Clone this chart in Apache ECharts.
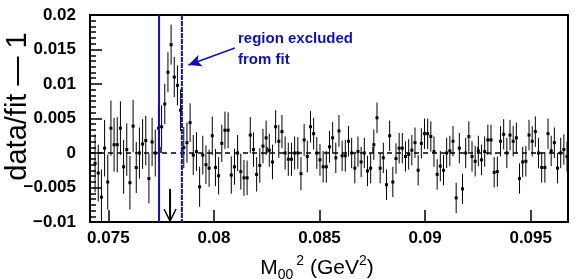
<!DOCTYPE html>
<html><head><meta charset="utf-8">
<script src="https://cdn.jsdelivr.net/npm/echarts@6/dist/echarts.min.js"></script>
<style>html,body{margin:0;padding:0;background:#fff}#c{width:581px;height:279px}</style>
</head><body><div id="c"></div>
<script>
// ---- data ----
const binStart = 0.07437;   // centre of the first bin (GeV^2)
const binWidth = 0.00015;   // bin width (GeV^2)
const ratio = [
 -0.0015,-0.0029,-0.0064, 0.0007,-0.0042, 0.0036, 0.0012, 0.0012, 0.0036,-0.0020,
  0.0005,-0.0043, 0.0039,-0.0021, 0.0000, 0.0013, 0.0018,-0.0037, 0.0016, 0.0000,
  0.0036, 0.0038, 0.0071, 0.0117, 0.0157, 0.0110, 0.0098, 0.0062, 0.0008, 0.0015,
  0.0044,-0.0003, 0.0002,-0.0049,-0.0003,-0.0017,-0.0022, 0.0025,-0.0021,-0.0033,
  0.0014, 0.0033, 0.0033,-0.0032,-0.0020, 0.0000,-0.0027,-0.0036,-0.0036, 0.0026,
  0.0005,-0.0031,-0.0018, 0.0010, 0.0022, 0.0004,-0.0013, 0.0038, 0.0017, 0.0031,
  0.0000,-0.0009,-0.0009, 0.0000, 0.0000,-0.0030, 0.0019,-0.0005, 0.0038, 0.0028,
  0.0000,-0.0010,-0.0020,-0.0020, 0.0009, 0.0022,-0.0007, 0.0032,-0.0004,-0.0004,
  0.0017, 0.0000,-0.0022, 0.0002,-0.0013, 0.0000,-0.0026,-0.0022, 0.0012, 0.0051,
 -0.0022,-0.0007,-0.0046, 0.0025,-0.0042,-0.0008, 0.0007, 0.0007,-0.0005,-0.0002,
  0.0004, 0.0015,-0.0025, 0.0014, 0.0028, 0.0028, 0.0024, 0.0002,-0.0031,-0.0019,
 -0.0025, 0.0000, 0.0003, 0.0017,-0.0065, 0.0007,-0.0052, 0.0000, 0.0024,-0.0005,
 -0.0012, 0.0003,-0.0010, 0.0002, 0.0019, 0.0019,-0.0028,-0.0027, 0.0017, 0.0027,
  0.0000, 0.0026, 0.0017, 0.0022,-0.0037,-0.0013,-0.0012, 0.0026, 0.0017, 0.0031,
  0.0000,-0.0021,-0.0021, 0.0028, 0.0003, 0.0015,-0.0022, 0.0000, 0.0005,-0.0005
];
const errors = [
  0.0042,0.0041,0.0040,0.0041,0.0040,0.0040,0.0039,0.0040,0.0039,0.0039,
  0.0038,0.0039,0.0038,0.0037,0.0037,0.0036,0.0036,0.0036,0.0035,0.0034,
  0.0033,0.0031,0.0029,0.0029,0.0029,0.0029,0.0029,0.0030,0.0030,0.0029,
  0.0028,0.0029,0.0028,0.0029,0.0028,0.0028,0.0027,0.0028,0.0027,0.0027,
  0.0027,0.0027,0.0026,0.0027,0.0026,0.0026,0.0026,0.0026,0.0025,0.0026,
  0.0025,0.0025,0.0025,0.0025,0.0025,0.0024,0.0025,0.0024,0.0024,0.0024,
  0.0024,0.0024,0.0024,0.0024,0.0023,0.0024,0.0023,0.0023,0.0023,0.0023,
  0.0023,0.0023,0.0023,0.0023,0.0023,0.0023,0.0022,0.0023,0.0022,0.0023,
  0.0022,0.0022,0.0022,0.0022,0.0022,0.0022,0.0022,0.0022,0.0022,0.0022,
  0.0022,0.0022,0.0022,0.0022,0.0022,0.0022,0.0022,0.0022,0.0022,0.0022,
  0.0022,0.0022,0.0022,0.0022,0.0022,0.0022,0.0022,0.0022,0.0022,0.0022,
  0.0022,0.0022,0.0022,0.0022,0.0022,0.0022,0.0022,0.0022,0.0022,0.0022,
  0.0022,0.0022,0.0022,0.0022,0.0022,0.0022,0.0022,0.0022,0.0022,0.0022,
  0.0022,0.0022,0.0022,0.0022,0.0022,0.0022,0.0022,0.0022,0.0022,0.0022,
  0.0022,0.0022,0.0022,0.0022,0.0022,0.0022,0.0022,0.0022,0.0022,0.0022
];
const xTicks = [0.075, 0.08, 0.085, 0.09, 0.095];
const xTickLabels = ['0.075', '0.08', '0.085', '0.09', '0.095'];
const xMinorTicks = [0.0775, 0.0825, 0.0875, 0.0925];
const xRange = [0.074129, 0.096766];
const yRange = [-0.01, 0.02];
const excludedRegion = [0.0774, 0.07848];
const peakArrow = { x: 0.07792, yTop: -0.0052 };
const noteArrow = { from: [0.08099, 0.01522], to: [0.07879, 0.01276] };

// ---- chart ----
const points = ratio.map((v, i) => [binStart + i * binWidth, v, errors[i]]);
const FONT = '"Liberation Sans", Arial, Helvetica, sans-serif';
const BLUE = '#1010b8';
const chart = echarts.init(document.getElementById('c'), null, { renderer: 'canvas' });

chart.setOption({
  animation: false,
  backgroundColor: '#fff',
  grid: { left: 90, right: 13, top: 15, bottom: 57, show: true, borderColor: '#000', borderWidth: 2,
          backgroundColor: 'transparent', containLabel: false, outerBoundsMode: 'none' },
  xAxis: [{
    type: 'value', min: xRange[0], max: xRange[1], position: 'bottom',
    axisLine: { show: true, onZero: false, lineStyle: { color: '#000', width: 2 } },
    axisTick: { show: true, inside: true, length: 12, customValues: xTicks, lineStyle: { color: '#000', width: 1.5 } },
    axisLabel: { show: true, customValues: xTicks, formatter: v => xTickLabels[xTicks.findIndex(t => Math.abs(t - v) < 1e-9)], color: '#000', fontFamily: FONT, fontWeight: 'bold', fontSize: 17, margin: 8 },
    splitLine: { show: false },
    name: '{m|M}{sub|00}{sup|2}{m| (GeV}{sup|2}{m|)}',
    nameLocation: 'middle', nameGap: 32, nameMoveOverlap: false,
    nameTextStyle: {
      padding: [0, 24, 0, 0],
      rich: {
        m: { fontFamily: FONT, fontSize: 21, color: '#000', lineHeight: 28 },
        sub: { fontFamily: FONT, fontSize: 14, color: '#000', verticalAlign: 'bottom', lineHeight: 26, padding: [0, 3, 0, 0] },
        sup: { fontFamily: FONT, fontSize: 14, color: '#000', verticalAlign: 'top', lineHeight: 28 }
      }
    }
  }, {
    type: 'value', min: xRange[0], max: xRange[1], position: 'bottom',
    axisLine: { show: false },
    axisTick: { show: true, inside: true, length: 6, customValues: xMinorTicks, lineStyle: { color: '#000', width: 1.5 } },
    axisLabel: { show: false }, splitLine: { show: false }
  }],
  yAxis: {
    type: 'value', min: yRange[0], max: yRange[1], interval: 0.005,
    axisLine: { show: true, onZero: false, lineStyle: { color: '#000', width: 2 } },
    axisTick: { show: true, inside: true, length: 12, lineStyle: { color: '#000', width: 1.5 } },
    minorTick: { show: true, splitNumber: 6, length: 6, lineStyle: { color: '#000', width: 1.5 } },
    axisLabel: { color: '#000', fontFamily: FONT, fontWeight: 'bold', fontSize: 17, margin: 14,
      formatter: v => { const s = String(Math.round(v * 1000) / 1000); return s.replace('-', '\u2212'); } },
    splitLine: { show: false },
    name: 'data/fit \u2014 1', nameLocation: 'middle', nameGap: 58, nameMoveOverlap: false,
    nameTextStyle: { fontFamily: FONT, fontSize: 29, color: '#000', padding: [0, 0, 0, 24] }
  },
  series: [{
    type: 'custom', xAxisIndex: 0, clip: true, z: 3,
    data: points,
    encode: { x: 0, y: 1 },
    renderItem: (params, api) => {
      const x = api.value(0), y = api.value(1), e = api.value(2);
      const t = api.coord([x, y + e]), b = api.coord([x, y - e]), c = api.coord([x, y]);
      return { type: 'group', children: [
        { type: 'line', shape: { x1: t[0], y1: t[1], x2: b[0], y2: b[1] }, style: { stroke: '#000', lineWidth: 1 } },
        { type: 'rect', shape: { x: c[0] - 1.5, y: c[1] - 1.5, width: 3, height: 3 }, style: { fill: '#000' } }
      ] };
    },
    markLine: {
      silent: true, symbol: 'none', label: { show: false }, animation: false,
      data: [
        { yAxis: 0, lineStyle: { color: '#000', width: 1.5, type: [5, 4] } },
        [ { coord: noteArrow.from, symbol: 'none', lineStyle: { color: BLUE, width: 1.5, type: 'solid' } },
          { coord: noteArrow.to, symbol: 'arrow', symbolSize: [9, 13] } ]
      ]
    }
  }, {
    // boundaries of the region excluded from the fit
    type: 'custom', xAxisIndex: 0, clip: true, z: 5,
    data: [[excludedRegion[0], 0], [excludedRegion[1], 1]],
    encode: { x: 0 },
    renderItem: (params, api) => {
      const x = api.value(0);
      const t = api.coord([x, yRange[1]]), b = api.coord([x, yRange[0]]);
      return { type: 'line', shape: { x1: t[0], y1: t[1], x2: b[0], y2: b[1] },
        style: { stroke: BLUE, lineWidth: 2, lineDash: api.value(1) ? [5, 1] : null } };
    }
  }, {
    type: 'custom', xAxisIndex: 0, clip: true, z: 4,
    data: [[peakArrow.x, peakArrow.yTop, yRange[0]]],
    encode: { x: 0, y: 1 },
    renderItem: (params, api) => {
      const t = api.coord([api.value(0), api.value(1)]), b = api.coord([api.value(0), api.value(2)]);
      return { type: 'group', children: [
        { type: 'line', shape: { x1: t[0], y1: t[1], x2: b[0], y2: b[1] - 1 }, style: { stroke: '#000', lineWidth: 2 } },
        { type: 'polyline', shape: { points: [[b[0] - 6, b[1] - 13], [b[0], b[1] - 1], [b[0] + 6, b[1] - 13]] }, style: { stroke: '#000', lineWidth: 1.5, fill: null } }
      ] };
    }
  }],
  graphic: [{
    type: 'text', left: 238, top: 28, z: 10,
    style: { text: 'region excluded\nfrom fit', fill: BLUE, font: 'bold 15px ' + FONT, lineHeight: 21 }
  }]
});
</script>
</body></html>
